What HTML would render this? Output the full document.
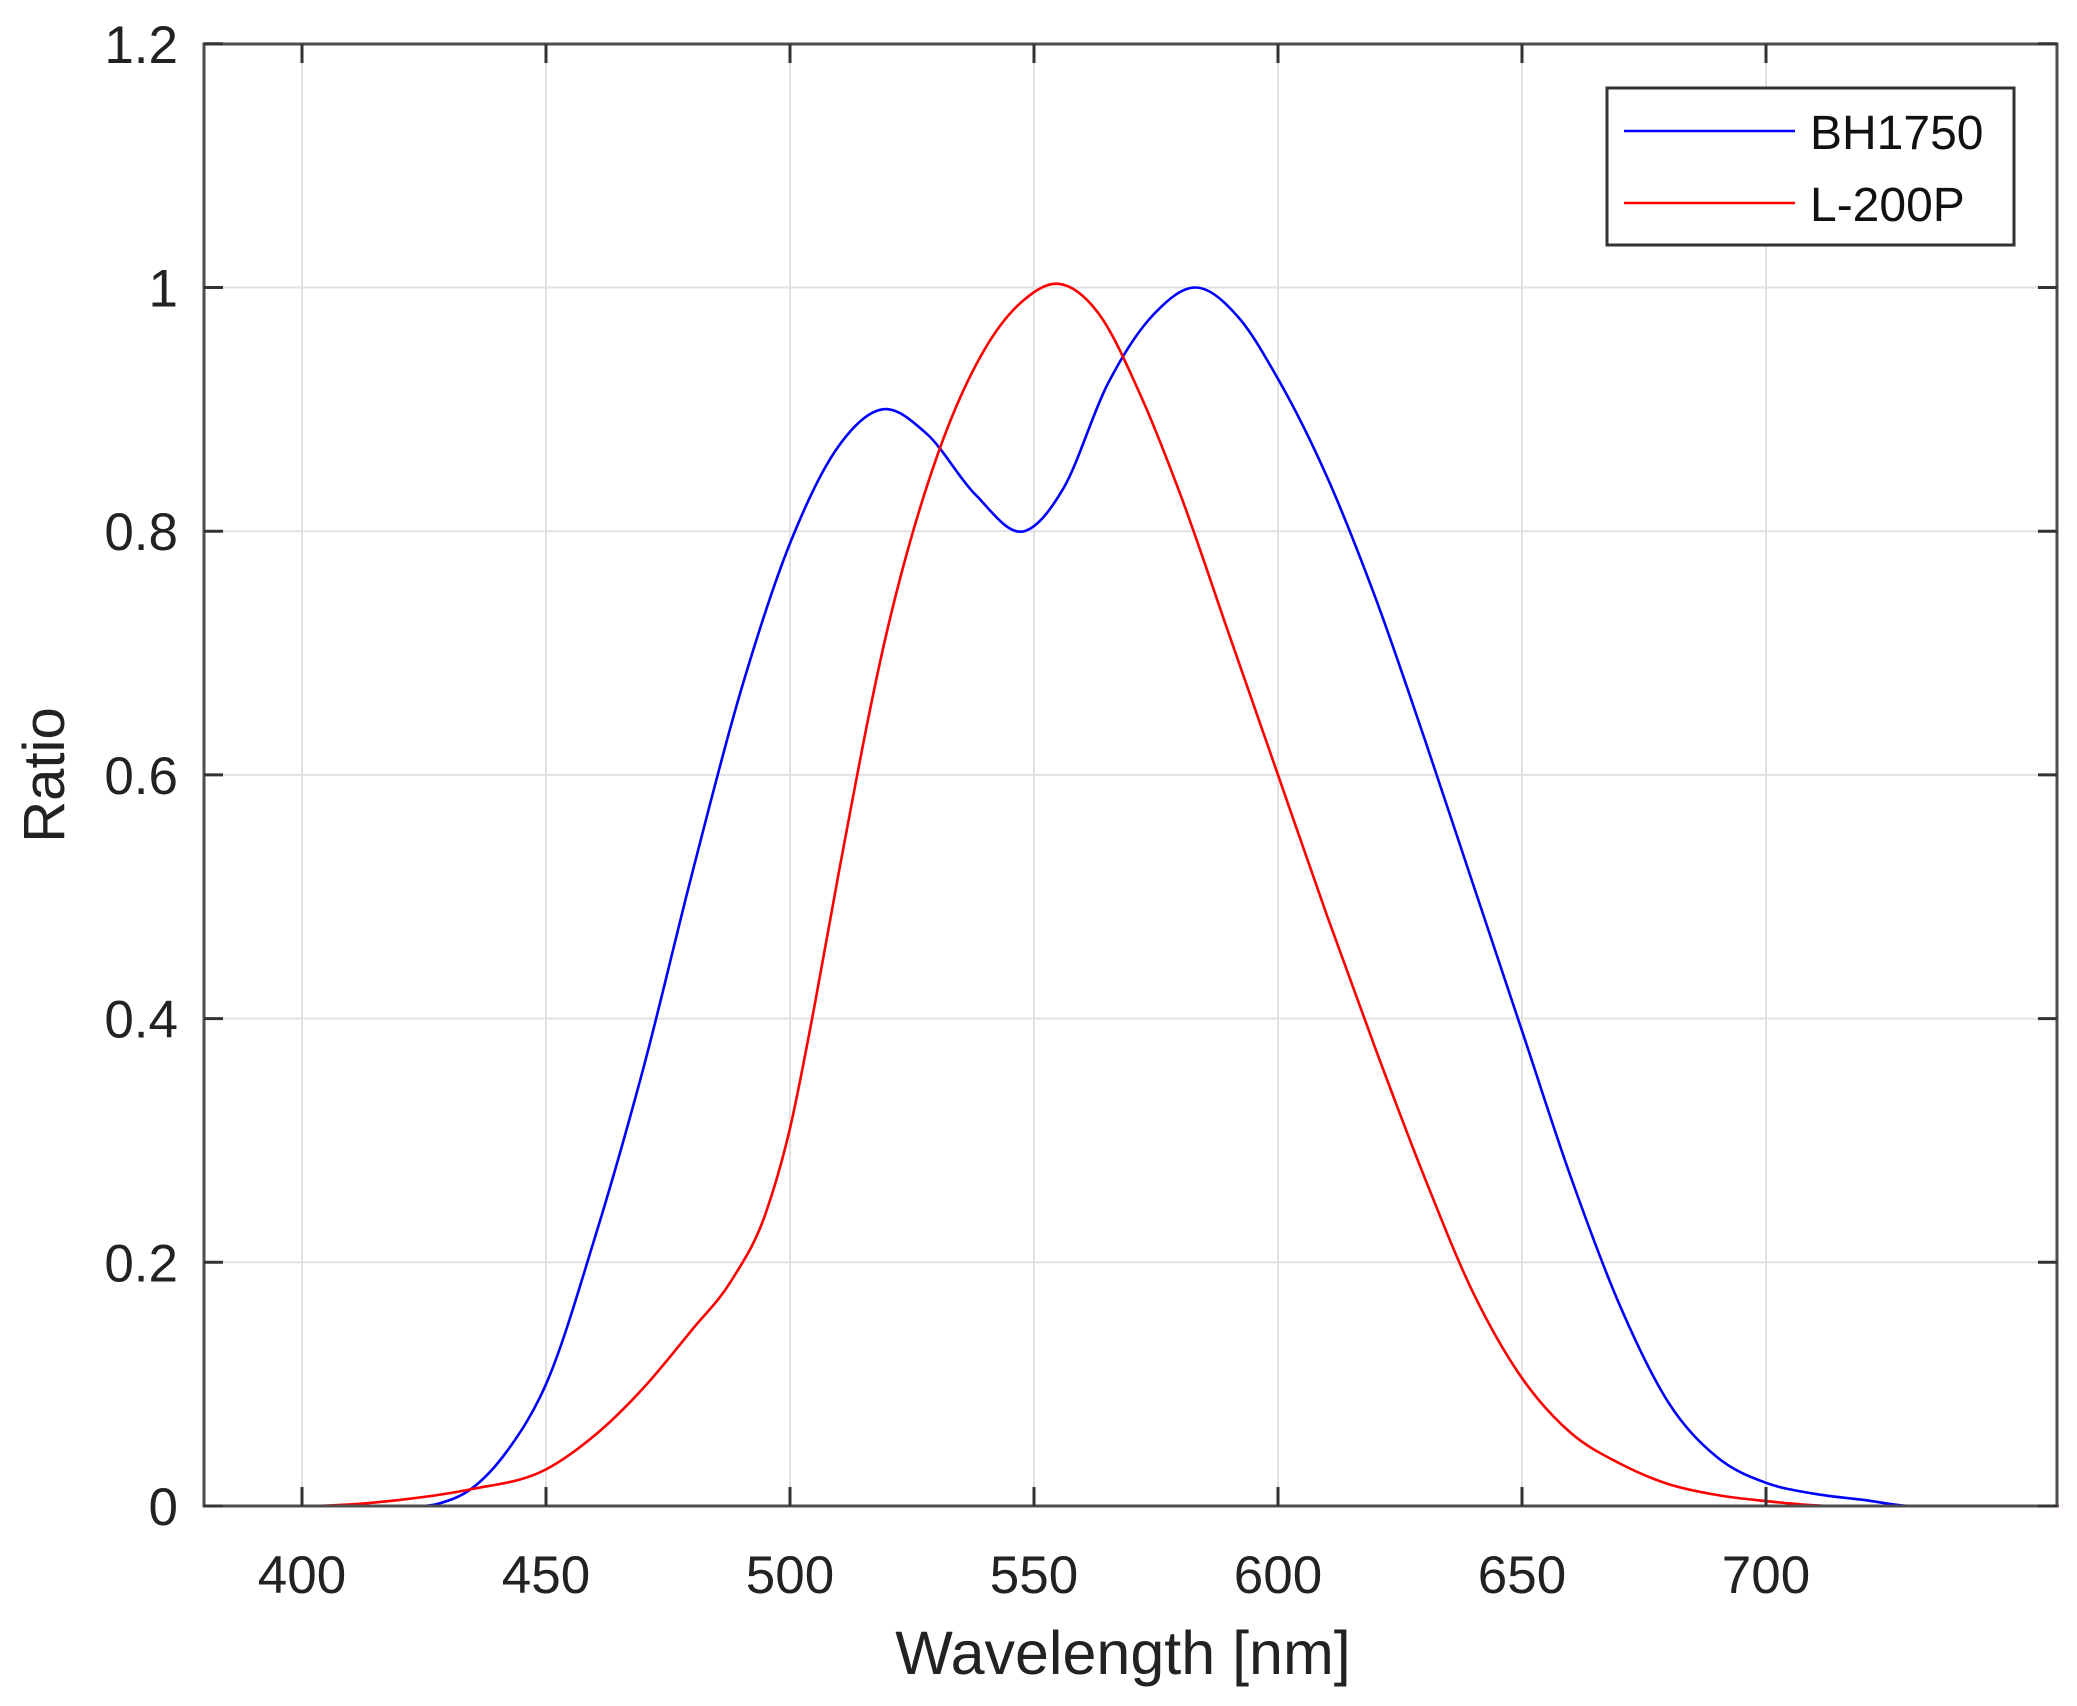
<!DOCTYPE html>
<html><head><meta charset="utf-8"><style>
html,body{margin:0;padding:0;background:#fff;}
svg{display:block;font-family:"Liberation Sans",Arial,sans-serif;}
</style></head><body>
<svg id="s" width="2077" height="1706" viewBox="0 0 2077 1706" xmlns="http://www.w3.org/2000/svg">
<rect width="2077" height="1706" fill="#fff"/>
<g id="grid" stroke="#e2e2e2" stroke-width="2"></g>
<g id="curves" fill="none" stroke-width="2.6" stroke-linejoin="round"></g>
<rect x="204" y="44" width="1853" height="1462" fill="none" stroke="#4d4d4d" stroke-width="3"/>
<g id="ticks" stroke="#333" stroke-width="3"></g>
<g id="labels" font-size="53" fill="#222"></g>
<text x="1123" y="1674" font-size="61" fill="#222" text-anchor="middle">Wavelength [nm]</text>
<text transform="translate(64,775) rotate(-90)" font-size="58" fill="#222" text-anchor="middle">Ratio</text>
<rect x="1607" y="88" width="407" height="157" fill="#fff" stroke="#333" stroke-width="3"/>
<line x1="1624" y1="131" x2="1795" y2="131" stroke="#0000ff" stroke-width="2.6"/>
<line x1="1624" y1="203" x2="1795" y2="203" stroke="#ff0000" stroke-width="2.6"/>
<text x="1810" y="149" font-size="48" fill="#111">BH1750</text>
<text x="1810" y="221" font-size="48" fill="#111">L-200P</text>
</svg>
<script>
var NS="http://www.w3.org/2000/svg";
function X(w){return 302+(w-400)*4.88;}
function Y(r){return 1506-r*1218.5;}
function el(p,t,a){var e=document.createElementNS(NS,t);for(var k in a)e.setAttribute(k,a[k]);p.appendChild(e);return e;}
var g=document.getElementById('grid'),tk=document.getElementById('ticks'),lb=document.getElementById('labels');
for(var w=400;w<=700;w+=50){var x=X(w);el(g,'line',{x1:x,y1:44,x2:x,y2:1506});
el(tk,'line',{x1:x,y1:1506,x2:x,y2:1487});el(tk,'line',{x1:x,y1:44,x2:x,y2:63});
var t=el(lb,'text',{x:x,y:1593,'text-anchor':'middle'});t.textContent=w;}
var yl=['0','0.2','0.4','0.6','0.8','1','1.2'];
for(var i=0;i<=6;i++){var y=Y(i*0.2);if(i>0&&i<6)el(g,'line',{x1:204,y1:y,x2:2057,y2:y});
el(tk,'line',{x1:204,y1:y,x2:223,y2:y});el(tk,'line',{x1:2057,y1:y,x2:2038,y2:y});
var t=el(lb,'text',{x:178,y:y+19,'text-anchor':'end'});t.textContent=yl[i];}
var blue=[[380,0],[420,0],[428,0.002],[435,0.015],[442,0.045],[450,0.1],[460,0.22],[470,0.36],[480,0.52],[490,0.67],[500,0.79],[510,0.87],[519,0.9],[528,0.88],[538,0.83],[548,0.8],[556,0.835],[565,0.92],[575,0.98],[583,1.0],[592,0.975],[600,0.925],[610,0.845],[620,0.745],[630,0.63],[640,0.51],[650,0.39],[660,0.27],[670,0.165],[680,0.085],[690,0.04],[700,0.019],[710,0.01],[720,0.005],[730,0],[760,0]];
var red=[[380,0],[400,0],[420,0.005],[435,0.014],[450,0.03],[460,0.058],[470,0.097],[480,0.145],[488,0.185],[495,0.24],[500,0.31],[505,0.41],[510,0.52],[520,0.72],[530,0.86],[540,0.95],[548,0.99],[555,1.003],[563,0.98],[572,0.91],[580,0.83],[590,0.715],[600,0.6],[610,0.485],[620,0.375],[630,0.27],[640,0.175],[650,0.105],[660,0.06],[670,0.035],[680,0.018],[690,0.009],[700,0.004],[715,0],[760,0]];
function spl(d){var n=d.length,xs=d.map(function(q){return q[0]}),ys=d.map(function(q){return q[1]}),m=[],dl=[],h=[];
for(var i=0;i<n-1;i++){h.push(xs[i+1]-xs[i]);dl.push((ys[i+1]-ys[i])/h[i]);}
m[0]=dl[0];m[n-1]=dl[n-2];
for(var i=1;i<n-1;i++){m[i]=(dl[i-1]*h[i]+dl[i]*h[i-1])/(h[i-1]+h[i]);if(ys[i]==0&&(ys[i-1]==0||ys[i+1]==0))m[i]=0;}
var s='M'+X(xs[0]).toFixed(1)+','+Y(ys[0]).toFixed(1);
for(var i=0;i<n-1;i++){var hh=h[i];
s+=' C'+X(xs[i]+hh/3).toFixed(1)+','+Y(ys[i]+m[i]*hh/3).toFixed(1)+' '+X(xs[i+1]-hh/3).toFixed(1)+','+Y(ys[i+1]-m[i+1]*hh/3).toFixed(1)+' '+X(xs[i+1]).toFixed(1)+','+Y(ys[i+1]).toFixed(1);}
return s;}
var c=document.getElementById('curves');
el(c,'path',{d:spl(blue),stroke:'#0000ff'});
el(c,'path',{d:spl(red),stroke:'#ff0000'});
</script>
</body></html>
